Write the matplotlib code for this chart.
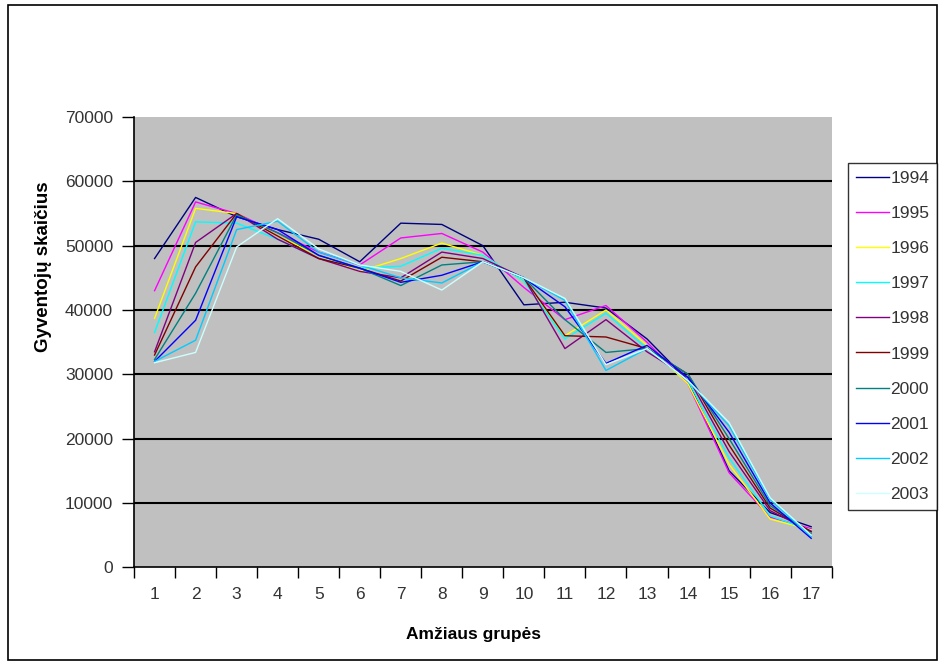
import matplotlib.pyplot as plt
from matplotlib.patches import Rectangle
from matplotlib.ticker import FixedLocator

plt.rcParams["font.family"] = ["Liberation Sans", "DejaVu Sans"]

age_groups = list(range(1, 18))
years = ["1994", "1995", "1996", "1997", "1998", "1999", "2000", "2001", "2002", "2003"]

pop_1994 = [48000, 57500, 54500, 52500, 51000, 47500, 53500, 53300, 50000, 40800, 41200, 40300, 35500, 29000, 15000, 8500, 6300]
pop_1995 = [43000, 56800, 55000, 52000, 49000, 47000, 51200, 51900, 49000, 43500, 38500, 40700, 35000, 28500, 14700, 7800, 6000]
pop_1996 = [38700, 55800, 55000, 51500, 48500, 46000, 48000, 50400, 48500, 44500, 36000, 40000, 34500, 28500, 16000, 7500, 5800]
pop_1997 = [36500, 53700, 53500, 51000, 48000, 46500, 46800, 49600, 48500, 44500, 35500, 39500, 34000, 29000, 17000, 8000, 5700]
pop_1998 = [33500, 50500, 55000, 51000, 48000, 46000, 45000, 49000, 48000, 45000, 34000, 38500, 33500, 29500, 18000, 8800, 5600]
pop_1999 = [33000, 46700, 55000, 51500, 48000, 46500, 44500, 48200, 47500, 45000, 36000, 35800, 34000, 30000, 19000, 9200, 5500]
pop_2000 = [32300, 42600, 54800, 52000, 48500, 46500, 43800, 47000, 47500, 45000, 38500, 33400, 34000, 30000, 20000, 9600, 5200]
pop_2001 = [32000, 38400, 54500, 52500, 48500, 46500, 44300, 45400, 47500, 45000, 40500, 31700, 34500, 29500, 21000, 10000, 4500]
pop_2002 = [32000, 35300, 52500, 53800, 49000, 47000, 45000, 44200, 47500, 45000, 41500, 30600, 34000, 29000, 22000, 10500, 4800]
pop_2003 = [31800, 33400, 49800, 54200, 49500, 47000, 46000, 43100, 47500, 45000, 41800, 31500, 34000, 29000, 22500, 10800, 5000]

series = [pop_1994, pop_1995, pop_1996, pop_1997, pop_1998,
          pop_1999, pop_2000, pop_2001, pop_2002, pop_2003]
colors = ["#000080", "#FF00FF", "#FFFF00", "#00FFFF", "#800080",
          "#800000", "#008080", "#0000FF", "#00CCFF", "#CCFFFF"]
y_ticks = [0, 10000, 20000, 30000, 40000, 50000, 60000, 70000]

fig = plt.figure(figsize=(9.44, 6.65), dpi=100)
fig.patch.set_facecolor("white")
ax = fig.add_axes([0.142, 0.147, 0.739, 0.677])
ax.set_facecolor("#C0C0C0")

lines = []
for year, values, color in zip(years, series, colors):
    (ln,) = ax.plot(age_groups, values, color=color, linewidth=1.0, label=year)
    lines.append(ln)

# horizontal grid lines, skipping the axis baseline and the top edge
ax.hlines(y_ticks[1:-1], 0.5, 17.5, color="black", linewidth=1.5, zorder=0.5)

ax.set_xlim(0.5, 17.5)
ax.set_ylim(0, 70000)
ax.set_yticks(y_ticks)
ax.set_xticks(age_groups)
ax.xaxis.set_minor_locator(FixedLocator([k + 0.5 for k in range(0, 18)]))
ax.tick_params(axis="x", which="major", length=0, pad=14, labelsize=12.5)
ax.tick_params(axis="x", which="minor", length=8, width=1, direction="out")
ax.tick_params(axis="y", length=9, width=1, direction="out", pad=6, labelsize=12.5)
ax.tick_params(colors="black")
for lbl in ax.get_xticklabels() + ax.get_yticklabels():
    lbl.set_color("#333333")

for side in ("top", "right"):
    ax.spines[side].set_visible(False)
for side in ("left", "bottom"):
    ax.spines[side].set_linewidth(1.2)

ax.set_xlabel("Amžiaus grupės", fontsize=12.5, fontweight="bold")
ax.set_ylabel("Gyventojų skaičius", fontsize=13.5, fontweight="bold")
ax.xaxis.set_label_coords(0.486, -0.133)
ax.yaxis.set_label_coords(-0.118, 0.668)

leg = fig.legend(
    handles=lines,
    labels=years,
    loc="upper left",
    bbox_to_anchor=(848 / 944, 1 - 163 / 665),
    frameon=True,
    fancybox=False,
    edgecolor="black",
    fontsize=12.5,
    handlelength=1.9,
    handletextpad=0.1,
    labelspacing=1.15,
    borderpad=0.45,
    borderaxespad=0,
)
leg.get_frame().set_linewidth(1.0)
for txt in leg.get_texts():
    txt.set_color("#333333")

# outer frame around the whole chart
fig.patches.append(Rectangle((8 / 944, 5 / 665), 929 / 944, 655 / 665,
                             transform=fig.transFigure, fill=False,
                             edgecolor="black", linewidth=1.2))

fig.savefig("out.png", dpi=100)
